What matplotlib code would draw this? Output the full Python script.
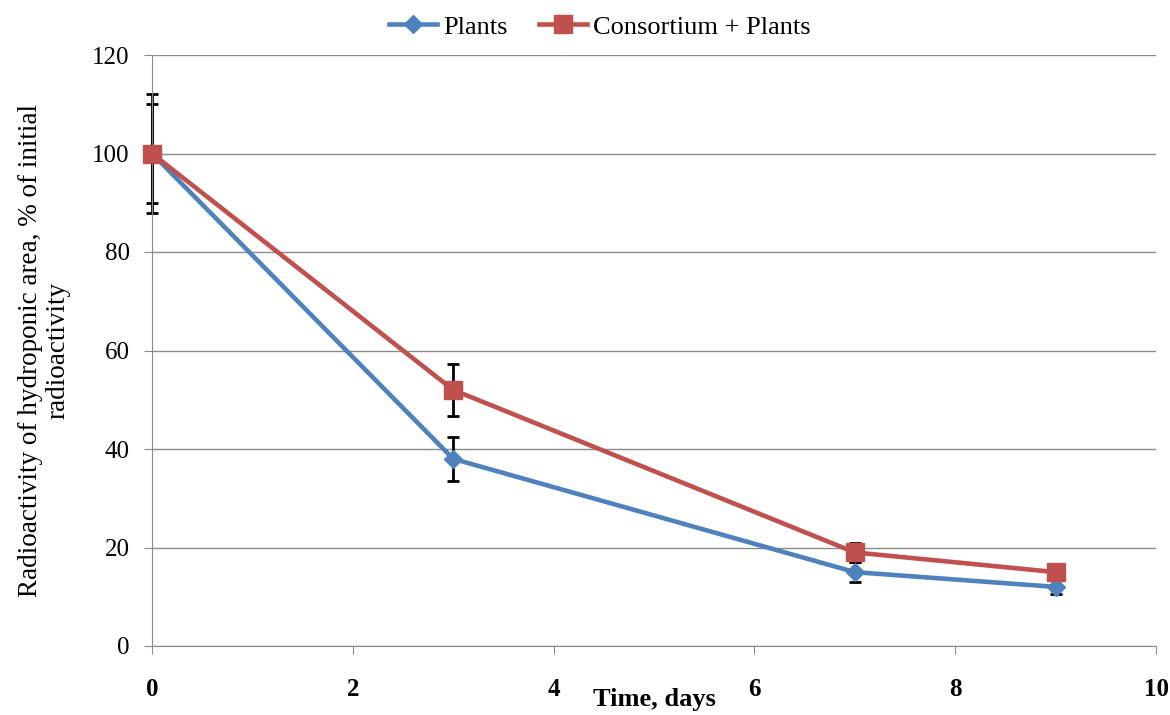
import numpy as np
import matplotlib.pyplot as plt

plt.rcParams['font.family'] = ['Liberation Serif', 'DejaVu Serif']

days = [0, 3, 7, 9]
plants = [100, 38, 15, 12]
plants_err = [12, 4.5, 2, 1.5]
consortium = [100, 52, 19, 15]
consortium_err = [10, 5.3, 2, 1]

fig = plt.figure(figsize=(11.7, 7.15), dpi=100)
ax = fig.add_axes([152 / 1170, 1 - 646 / 715, (1156 - 152) / 1170, (646 - 55) / 715])

for vals, err in [(plants, plants_err), (consortium, consortium_err)]:
    eb = ax.errorbar(days, vals, yerr=err, fmt='none', ecolor='black',
                     elinewidth=2, capsize=4.5, capthick=2, zorder=2)
    for art in eb.lines[1] + eb.lines[2]:
        art.set_clip_on(False)
ax.plot(days, plants, color='#4F81BD', lw=3.3, marker='D', ms=9.5,
        label='Plants', zorder=3, clip_on=False)
ax.plot(days, consortium, color='#C0504D', lw=3.3, marker='s', ms=13,
        label='Consortium + Plants', zorder=4, clip_on=False)

ax.set_xlim(0, 10)
ax.set_ylim(0, 120)
ax.set_xticks(range(0, 11, 2))
ax.set_yticks(range(0, 121, 20))
ax.yaxis.grid(True, color='#8a8a8a', lw=1)
ax.set_axisbelow(True)
for s in ['top', 'right']:
    ax.spines[s].set_visible(False)
for s in ['left', 'bottom']:
    ax.spines[s].set_color('#8a8a8a')
ax.tick_params(axis='both', colors='#8a8a8a', labelcolor='black', labelsize=18, length=6)
ax.tick_params(axis='y', pad=10)
ax.tick_params(axis='x', pad=17)
for lab in ax.get_xticklabels():
    lab.set_fontweight('bold')

ax.set_xlabel('Time, days', fontsize=19, fontweight='bold', labelpad=-9)
ax.set_ylabel('Radioactivity of hydroponic area, % of initial\nradioactivity', fontsize=19.5,
              linespacing=1.15)
ax.yaxis.set_label_coords(-0.081, 0.5)

fig.legend(loc='center', bbox_to_anchor=(600 / 1170, 1 - 27 / 715), ncol=2, frameon=False,
           fontsize=19, handlelength=1.8, handletextpad=0.25, columnspacing=1.2)

plt.savefig('out.png', dpi=100)
